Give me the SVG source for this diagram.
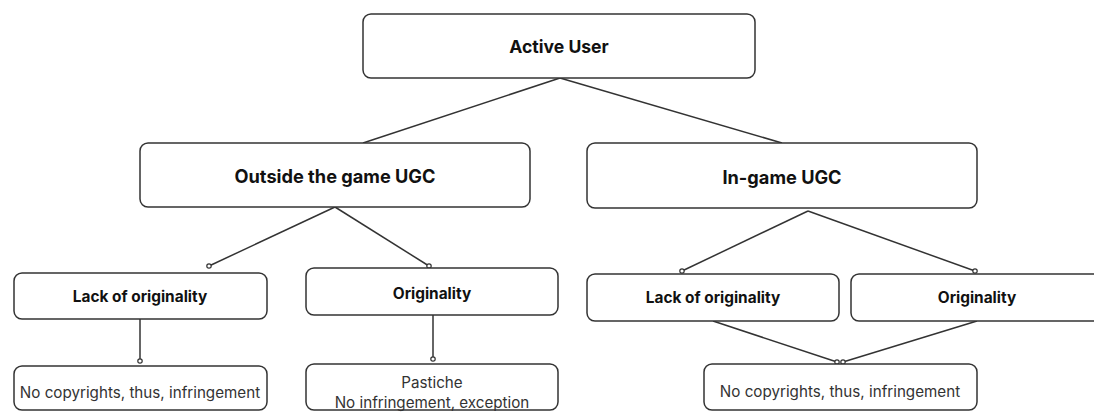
<svg xmlns="http://www.w3.org/2000/svg" width="1094" height="412" viewBox="0 0 1094 412">
<style>
.box{fill:#fff;stroke:#333;stroke-width:1.5}
.h{font-family:Inter,"Liberation Sans",sans-serif;font-weight:700;fill:#111;text-anchor:middle;dominant-baseline:central}
.b{font-family:Inter,"Liberation Sans",sans-serif;font-weight:400;fill:#333;text-anchor:middle;dominant-baseline:central;font-size:15.2px}
.c line{stroke:#333;stroke-width:1.5}
.d{fill:#fff;stroke:#333;stroke-width:1.2}
</style>
<rect width="1094" height="412" fill="#fff"/>
<g class="c" id="connectors">
<line x1="560" y1="78" x2="363" y2="143"/>
<line x1="560" y1="78" x2="782" y2="143"/>
<line x1="335" y1="207" x2="209" y2="266"/>
<line x1="335" y1="207" x2="429" y2="266"/>
<line x1="808" y1="211" x2="682" y2="271"/>
<line x1="808" y1="211" x2="975" y2="271"/>
<line x1="140" y1="319" x2="140" y2="361"/>
<line x1="433" y1="315" x2="433" y2="359"/>
<line x1="713" y1="321" x2="837" y2="362"/>
<line x1="977" y1="321" x2="843" y2="362"/>
<circle class="d" cx="209" cy="266" r="2.2"/>
<circle class="d" cx="429" cy="266" r="2.2"/>
<circle class="d" cx="682" cy="271" r="2.2"/>
<circle class="d" cx="975" cy="271" r="2.2"/>
<circle class="d" cx="140" cy="361" r="2.2"/>
<circle class="d" cx="433" cy="359" r="2.2"/>
<circle class="d" cx="837" cy="362" r="2.2"/>
<circle class="d" cx="843" cy="362" r="2.2"/>
</g>
<g id="active-user"><rect class="box" x="363" y="14" width="392" height="64" rx="8"/><text class="h" x="559" y="46" font-size="17.6">Active User</text></g>
<g id="outside-ugc"><rect class="box" x="140" y="143" width="390" height="64" rx="8"/><text class="h" x="335" y="176" font-size="18.2">Outside the game UGC</text></g>
<g id="ingame-ugc"><rect class="box" x="587" y="143" width="390" height="65" rx="8"/><text class="h" x="782" y="177" font-size="18.2">In-game UGC</text></g>
<g id="lack-left"><rect class="box" x="14" y="273" width="253" height="46" rx="8"/><text class="h" x="140" y="296" font-size="15.4">Lack of originality</text></g>
<g id="orig-left"><rect class="box" x="306" y="268" width="252" height="47" rx="8"/><text class="h" x="432" y="293" font-size="15.4">Originality</text></g>
<g id="lack-right"><rect class="box" x="587" y="274" width="252" height="47" rx="8"/><text class="h" x="713" y="297" font-size="15.4">Lack of originality</text></g>
<g id="orig-right"><rect class="box" x="851" y="274" width="260" height="47" rx="8"/><text class="h" x="977" y="297" font-size="15.4">Originality</text></g>
<g id="nocopy-left"><rect class="box" x="14" y="366" width="253" height="44" rx="8"/><text class="b" x="140" y="392">No copyrights, thus, infringement</text></g>
<g id="pastiche"><rect class="box" x="306" y="364" width="252" height="46" rx="8"/><text class="b" x="432" y="382">Pastiche</text><text class="b" x="432" y="402">No infringement, exception</text></g>
<g id="nocopy-right"><rect class="box" x="704" y="364" width="273" height="46" rx="8"/><text class="b" x="840" y="391">No copyrights, thus, infringement</text></g>
</svg>
